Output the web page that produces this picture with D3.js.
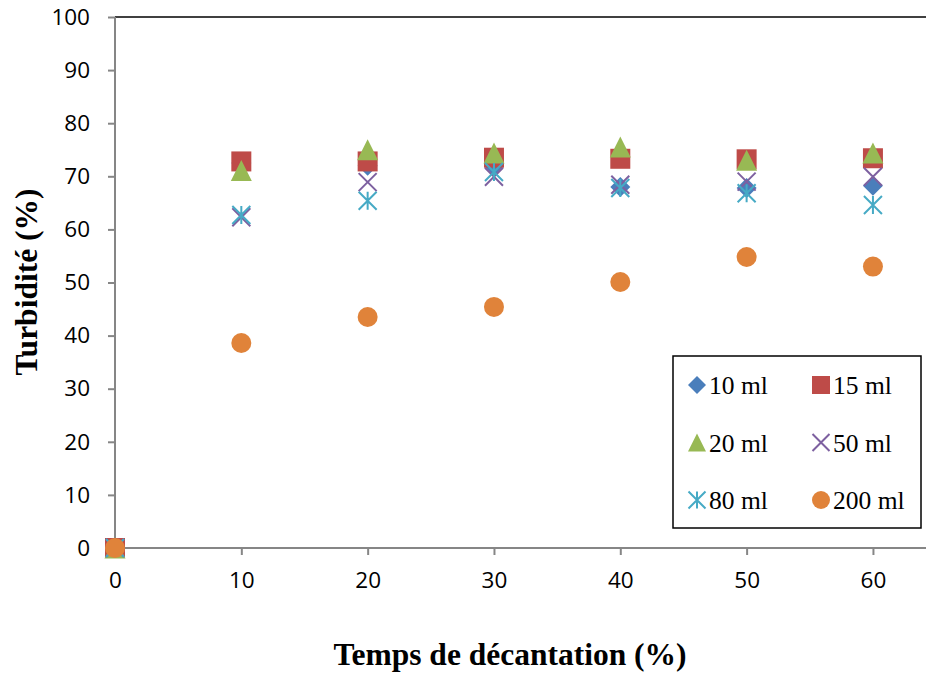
<!DOCTYPE html>
<html><head><meta charset="utf-8">
<script src="https://cdn.jsdelivr.net/npm/d3@7"></script>
<style>body{margin:0;background:#fff}svg{display:block}</style>
</head><body>
<script>
const times = [0, 10, 20, 30, 40, 50, 60];
const seriesNames = ["10 ml", "15 ml", "20 ml", "50 ml", "80 ml", "200 ml"];
const v10  = [0, 72.5, 72.0, 72.0, 68.0, 67.8, 68.2];
const v15  = [0, 72.8, 72.8, 73.5, 73.3, 73.2, 73.4];
const v20  = [0, 71.1, 75.0, 74.4, 75.5, 73.0, 74.4];
const v50  = [0, 62.3, 68.9, 69.9, 68.4, 69.0, 69.9];
const v80  = [0, 62.7, 65.4, 70.8, 67.8, 66.8, 64.6];
const v200 = [0, 38.6, 43.5, 45.4, 50.1, 54.8, 53.0];
const yTicks = [0, 10, 20, 30, 40, 50, 60, 70, 80, 90, 100];
const xTicks = [0, 10, 20, 30, 40, 50, 60];
const colors = ["#4a7ebb", "#be4b48", "#98b954", "#7d60a0", "#46aac5", "#e0833a"];
const shapes = ["diamond", "square", "triangle", "x", "asterisk", "circle"];
const allValues = [v10, v15, v20, v50, v80, v200];

const W = 926, H = 673;
const svg = d3.select("body").append("svg").attr("width", W).attr("height", H);
const x = d3.scaleLinear().domain([0, 64.2]).range([115, 926]);
const y = d3.scaleLinear().domain([0, 100]).range([548, 17]);

// axes
svg.append("line").attr("x1", x(0)).attr("x2", W).attr("y1", y(100)).attr("y2", y(100)).attr("stroke", "#000").attr("stroke-width", 1.5);
const yAxis = svg.append("g").attr("transform", `translate(${x(0)},0)`)
  .call(d3.axisLeft(y).tickValues(yTicks).tickSize(7).tickPadding(18).tickFormat(d3.format("d")));
const xAxis = svg.append("g").attr("transform", `translate(0,${y(0)})`)
  .call(d3.axisBottom(x).tickValues(xTicks).tickSize(7).tickPadding(17).tickFormat(d3.format("d")));
[yAxis, xAxis].forEach(g => {
  g.select(".domain").attr("stroke", "#868686").attr("stroke-width", 2);
  g.selectAll(".tick line").attr("stroke", "#868686").attr("stroke-width", 2);
  g.selectAll("text").attr("fill", "#000").style("font-family", "'Open Sans', sans-serif").style("font-size", "22.5px");
});
xAxis.select(".domain").attr("d", `M${x(0)},0H${W}`);
yAxis.select(".domain").attr("d", `M0,${y(100)}V${y(0)}`);

function markerPath(shape, s) {
  const h = s / 2;
  switch (shape) {
    case "diamond": return `M0,${-h}L${h},0L0,${h}L${-h},0Z`;
    case "square": return `M${-h},${-h}H${h}V${h}H${-h}Z`;
    case "triangle": return `M0,${-h}L${h},${h}L${-h},${h}Z`;
    case "x": return `M${-h},${-h}L${h},${h}M${h},${-h}L${-h},${h}`;
    case "asterisk": return `M${-h},${-h}L${h},${h}M${h},${-h}L${-h},${h}M0,${-h}V${h}`;
    case "circle": return `M${h},0A${h},${h},0,1,1,${-h},0A${h},${h},0,1,1,${h},0Z`;
  }
}
function drawMarker(g, shape, color, size) {
  const line = shape === "x" || shape === "asterisk";
  g.append("path").attr("d", markerPath(shape, size))
    .attr("fill", line ? "none" : color)
    .attr("stroke", line ? color : "none")
    .attr("stroke-width", line ? 2 : 0);
}
const sizes = {diamond: 20, square: 20, triangle: 21, x: 18, asterisk: 18, circle: 20};

allValues.forEach((vals, i) => {
  const g = svg.append("g");
  vals.forEach((v, j) => {
    const m = g.append("g").attr("transform", `translate(${x(times[j])},${y(v)})`);
    drawMarker(m, shapes[i], colors[i], sizes[shapes[i]]);
  });
});

// legend
const lg = svg.append("g");
lg.append("rect").attr("x", 673).attr("y", 356).attr("width", 248).attr("height", 172)
  .attr("fill", "#fff").attr("stroke", "#000").attr("stroke-width", 1.5);
seriesNames.forEach((name, i) => {
  const col = i % 2, row = Math.floor(i / 2);
  const mx = col === 0 ? 697 : 821, my = 385 + row * 57.5;
  const m = lg.append("g").attr("transform", `translate(${mx},${my})`);
  drawMarker(m, shapes[i], colors[i], shapes[i] === "x" || shapes[i] === "asterisk" ? 17 : 18);
  lg.append("text").attr("x", mx + 12).attr("y", my + 9).text(name)
    .style("font-family", "'Liberation Serif', serif").style("font-size", "25.5px").attr("fill", "#000");
});

// titles
svg.append("text").attr("x", 510).attr("y", 665).attr("text-anchor", "middle")
  .style("font-family", "'Liberation Serif', serif").style("font-size", "31.5px").style("font-weight", "bold")
  .text("Temps de décantation (%)");
svg.append("text").attr("transform", "translate(37,282) rotate(-90)").attr("text-anchor", "middle")
  .style("font-family", "'Liberation Serif', serif").style("font-size", "31.5px").style("font-weight", "bold")
  .text("Turbidité (%)");
</script>
</body></html>
